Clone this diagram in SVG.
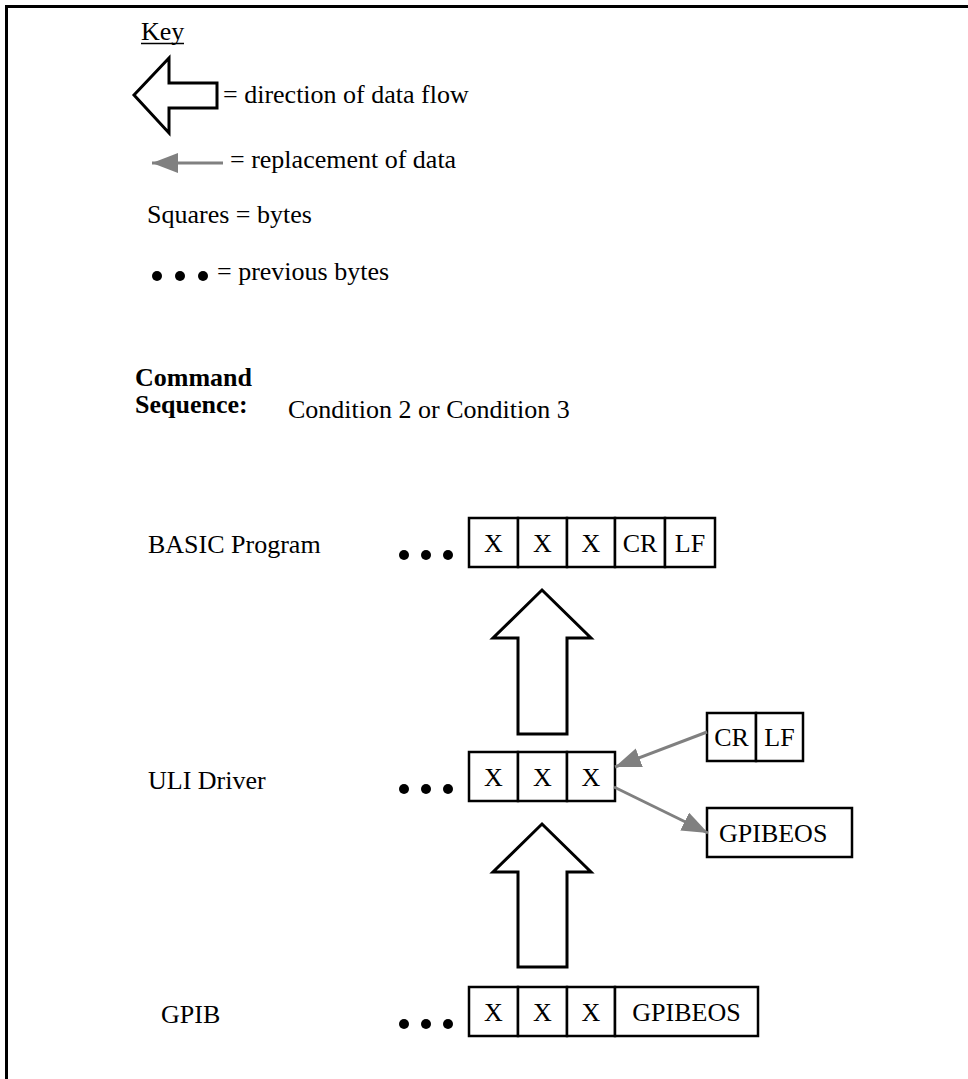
<svg xmlns="http://www.w3.org/2000/svg" width="968" height="1079" viewBox="0 0 968 1079">
  <style>
    text { font-family: "Liberation Serif", "Times New Roman", serif; font-size: 26px; fill: #000; }
    .bold { font-weight: bold; }
    .mid { text-anchor: middle; }
    .cell { fill: #fff; stroke: #000; stroke-width: 2.5; }
    .flow { fill: #fff; stroke: #000; stroke-width: 3; stroke-linejoin: miter; }
    .repl { stroke: #808080; stroke-width: 3; fill: none; marker-end: url(#grayHead); }
    .dot { fill: #000; }
  </style>
  <defs>
    <marker id="grayHead" markerUnits="userSpaceOnUse" markerWidth="27" markerHeight="22" refX="26" refY="10" orient="auto">
      <path d="M0,0 L26,10 L0,20 Z" fill="#808080"/>
    </marker>
  </defs>

  <rect width="968" height="1079" fill="#fff"/>
  <!-- frame -->
  <path d="M6.5,1079 V6.5 H968" fill="none" stroke="#000" stroke-width="3"/>

  <!-- key -->
  <g id="key">
    <text x="141" y="40">Key</text>
    <line x1="141" y1="43.5" x2="184" y2="43.5" stroke="#000" stroke-width="1.3"/>
    <polygon class="flow" points="134,95 169,58 169,83 217,83 217,108 169,108 169,133"/>
    <text x="223" y="103">= direction of data flow</text>
    <line class="repl" x1="223" y1="163" x2="152" y2="163"/>
    <text x="230" y="168">= replacement of data</text>
    <text x="147" y="223">Squares = bytes</text>
    <circle class="dot" cx="157" cy="276" r="5"/>
    <circle class="dot" cx="180" cy="276" r="5"/>
    <circle class="dot" cx="203" cy="276" r="5"/>
    <text x="217" y="280">= previous bytes</text>
  </g>

  <!-- command sequence -->
  <g id="command">
    <text class="bold" x="135" y="386">Command</text>
    <text class="bold" x="135" y="413">Sequence:</text>
    <text x="288" y="418">Condition 2 or Condition 3</text>
  </g>

  <!-- layer labels -->
  <g id="labels">
    <text x="148" y="553">BASIC Program</text>
    <text x="148" y="789">ULI Driver</text>
    <text x="161" y="1023">GPIB</text>
  </g>

  <!-- BASIC program bytes -->
  <g id="basic-row">
    <circle class="dot" cx="404" cy="555" r="5"/>
    <circle class="dot" cx="426" cy="555" r="5"/>
    <circle class="dot" cx="448" cy="555" r="5"/>
    <rect class="cell" x="469" y="518" width="49" height="49"/>
    <rect class="cell" x="518" y="518" width="49" height="49"/>
    <rect class="cell" x="567" y="518" width="48" height="49"/>
    <rect class="cell" x="615" y="518" width="50" height="49"/>
    <rect class="cell" x="665" y="518" width="50" height="49"/>
    <text class="mid" x="493.5" y="552">X</text>
    <text class="mid" x="542.5" y="552">X</text>
    <text class="mid" x="591" y="552">X</text>
    <text class="mid" x="640" y="552">CR</text>
    <text class="mid" x="690" y="552">LF</text>
  </g>

  <!-- ULI driver bytes -->
  <g id="uli-row">
    <circle class="dot" cx="404" cy="789" r="5"/>
    <circle class="dot" cx="426" cy="789" r="5"/>
    <circle class="dot" cx="448" cy="789" r="5"/>
    <rect class="cell" x="469" y="752" width="49" height="49"/>
    <rect class="cell" x="518" y="752" width="49" height="49"/>
    <rect class="cell" x="567" y="752" width="48" height="49"/>
    <text class="mid" x="493.5" y="786">X</text>
    <text class="mid" x="542.5" y="786">X</text>
    <text class="mid" x="591" y="786">X</text>
  </g>

  <!-- replacement terminator bytes -->
  <g id="crlf">
    <rect class="cell" x="707" y="713" width="49" height="48"/>
    <rect class="cell" x="756" y="713" width="47" height="48"/>
    <text class="mid" x="731.5" y="746">CR</text>
    <text class="mid" x="779.5" y="746">LF</text>
  </g>
  <g id="gpibeos">
    <rect class="cell" x="707" y="808" width="145" height="49"/>
    <text x="719" y="842">GPIBEOS</text>
  </g>

  <!-- GPIB bytes -->
  <g id="gpib-row">
    <circle class="dot" cx="404" cy="1024" r="5"/>
    <circle class="dot" cx="426" cy="1024" r="5"/>
    <circle class="dot" cx="448" cy="1024" r="5"/>
    <rect class="cell" x="469" y="987" width="49" height="49"/>
    <rect class="cell" x="518" y="987" width="49" height="49"/>
    <rect class="cell" x="567" y="987" width="48" height="49"/>
    <rect class="cell" x="615" y="987" width="143" height="49"/>
    <text class="mid" x="493.5" y="1021">X</text>
    <text class="mid" x="542.5" y="1021">X</text>
    <text class="mid" x="591" y="1021">X</text>
    <text class="mid" x="686.5" y="1021">GPIBEOS</text>
  </g>

  <!-- connectors -->
  <g id="connectors">
    <polygon class="flow" points="542,590 591,638 567,638 567,734 518,734 518,638 493,638"/>
    <polygon class="flow" points="542,824 591,872 567,872 567,967 518,967 518,872 493,872"/>
    <line class="repl" x1="707" y1="732" x2="615" y2="767"/>
    <line class="repl" x1="614" y1="787" x2="708" y2="833"/>
  </g>
</svg>
